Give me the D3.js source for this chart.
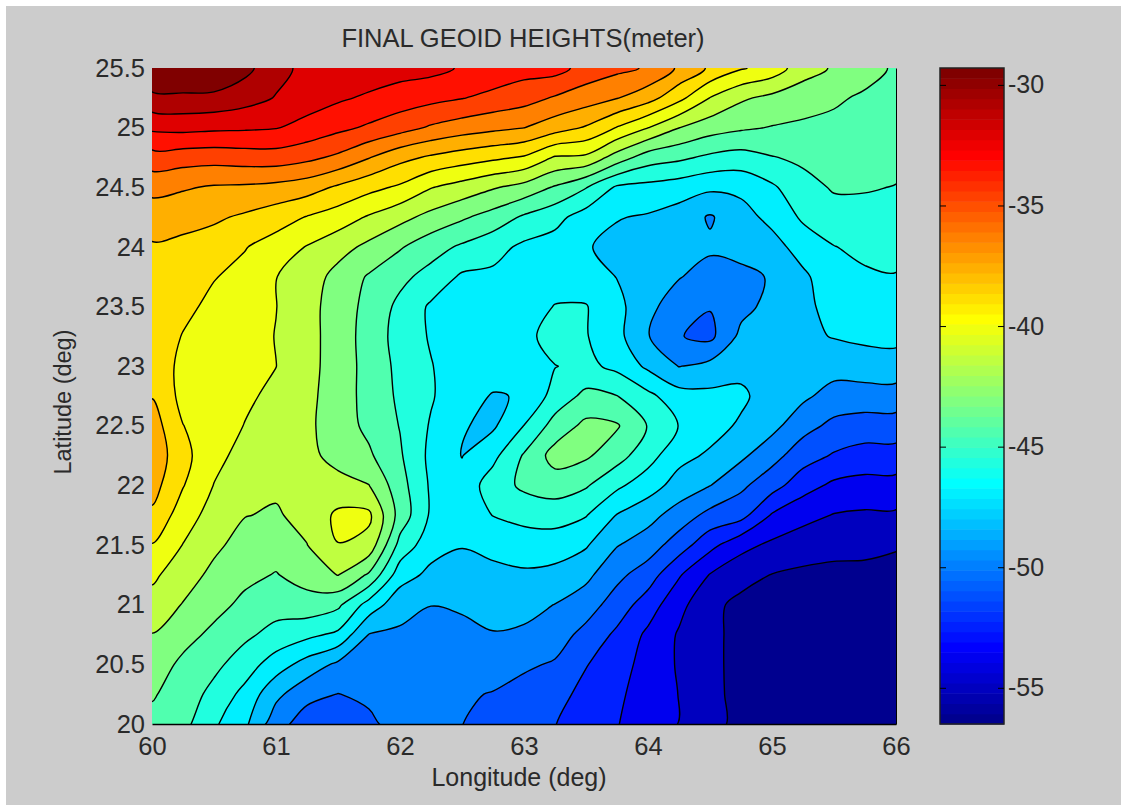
<!DOCTYPE html>
<html>
<head>
<meta charset="utf-8">
<script src="https://cdn.jsdelivr.net/npm/d3@7"></script>
<style>
  html, body { margin: 0; padding: 0; background: #fff; }
  text { font-family: "Liberation Sans", Arial, sans-serif; fill: #2a2a2a; }
</style>
</head>
<body>
<div id="chart"></div>
<script>
var lonTicks = [60, 61, 62, 63, 64, 65, 66];
var latTicks = [20, 20.5, 21, 21.5, 22, 22.5, 23, 23.5, 24, 24.5, 25, 25.5];
var barTicks = [-55, -50, -45, -40, -35, -30];

var lons = d3.range(60, 66.01, 0.25);
var lats = d3.range(25.5, 19.99, -0.25);

// lowest contour base and spacing, metres
var baseHeight = -56.5;
var contourStep = 1.36;
var levels = d3.range(1, 21);

// read off the picture as "how many contours above the base", one list per
// longitude (60 to 66 by 0.25), north to south (25.5 to 20 by 0.25)
var readings = [
  [21, 19.75, 18.2, 16.6, 15.3, 14.45, 13.9, 13.7, 13.6, 13.65, 13.75, 13.95, 14.5, 14.7, 14.4, 13.8, 12.95, 12.2, 11.6, 10.97, 10.5, 10.1, 9.7],
  [21, 19.8, 18.3, 16.46, 15.1, 14.35, 13.75, 13.45, 13.25, 12.95, 12.7, 12.7, 13.02, 13.3, 13.05, 12.5, 11.97, 11.45, 10.95, 10.33, 9.8, 9.55, 9.3],
  [21, 19.75, 18.2, 16.4, 14.9, 14.15, 13.55, 13.05, 12.75, 12.55, 12.45, 12.4, 12.45, 12.3, 11.97, 11.58, 11.2, 10.76, 10.3, 9.79, 9.25, 8.7, 8.15],
  [20.3, 19.4, 18.15, 16.5, 14.85, 13.85, 13.05, 12.7, 12.55, 12.4, 12.3, 12.15, 11.97, 11.65, 11.35, 11.03, 10.63, 10.23, 9.78, 9.2, 8.5, 7.7, 7.2],
  [19.3, 18.95, 18.05, 16.55, 14.7, 13.46, 12.55, 12.02, 12.02, 11.97, 12.01, 11.8, 11.6, 11.4, 11.15, 10.9, 10.4, 9.95, 9.4, 8.67, 7.5, 6.25, 5.4],
  [18.75, 18.45, 17.7, 16.25, 14.45, 12.95, 11.95, 11.55, 11.33, 11.33, 11.33, 11.25, 11.2, 11.25, 11.35, 11.3, 10.98, 10.4, 9.6, 8.25, 6.6, 5.3, 4.5],
  [18.75, 18.15, 17.25, 15.8, 13.85, 12.5, 11.4, 10.65, 10.57, 10.57, 10.55, 10.53, 10.5, 10.68, 11.32, 12.2, 11.98, 11.03, 9.2, 7.8, 5.8, 4.98, 4.3],
  [18.6, 17.85, 16.85, 15.05, 13.3, 11.9, 10.75, 9.9, 9.68, 9.57, 9.64, 9.64, 9.76, 10.15, 11.02, 12.2, 11.65, 9.85, 7.6, 5.97, 5.59, 5.2, 4.8],
  [18.4, 17.55, 16.4, 14.3, 12.85, 11.3, 10.1, 9.25, 8.76, 8.63, 8.74, 8.83, 8.96, 9.12, 9.4, 9.6, 8.65, 7.45, 6.35, 5.85, 5.55, 5.4, 5.4],
  [18.3, 17.3, 15.87, 13.85, 12.05, 10.7, 9.4, 8.65, 7.85, 7.9, 8.05, 8.1, 7.9, 7.75, 7.85, 7.85, 7.4, 6.75, 6.02, 5.6, 5.4, 5.35, 5.3],
  [17.9, 17.05, 15.5, 13.5, 11.6, 10.15, 8.85, 7.85, 7.6, 7.5, 7.4, 7.3, 7.05, 6.97, 7.35, 7.5, 7.05, 6.62, 6.2, 5.6, 5.35, 5.12, 5.02],
  [17.75, 16.7, 15.25, 13.2, 11.1, 9.6, 8.35, 7.8, 7.65, 7.5, 7.35, 6.95, 6.85, 7.73, 8.5, 8.02, 7.27, 6.75, 6.35, 5.95, 5.45, 4.95, 4.5],
  [17.4, 16.4, 15.02, 12.9, 10.65, 8.85, 7.8, 7.5, 7.4, 7.65, 7.3, 7.05, 8.02, 9.1, 9.2, 8.3, 7.5, 6.85, 6.35, 5.82, 5.15, 4.65, 4.1],
  [17.4, 15.9, 14.45, 11.9, 9.9, 8.3, 7.6, 7.45, 8.05, 8.5, 7.97, 8.4, 9.4, 10.4, 9.5, 8.4, 7.5, 6.7, 5.98, 5.45, 4.9, 4.35, 4.03],
  [16.6, 15.5, 13.9, 11.8, 9.05, 7.55, 7.07, 7.5, 8.05, 8.06, 8.25, 9.25, 10.25, 10.15, 9.1, 8.05, 7.1, 6.25, 5.45, 4.7, 4.05, 3.7, 3.4],
  [16.25, 15.05, 12.95, 10.55, 7.85, 7.05, 6.75, 6.97, 7.3, 7.3, 7.75, 9.02, 10.1, 9.4, 8.2, 6.95, 6.05, 5.25, 4.55, 3.8, 3.45, 3.2, 3.05],
  [15.9, 14.4, 12.02, 9.5, 7.7, 6.9, 6.55, 6.55, 6.25, 6.05, 6.8, 8.25, 8.95, 8.4, 7.45, 6.35, 5.5, 4.5, 3.5, 2.8, 2.6, 2.5, 2.4],
  [14.85, 13.3, 11.02, 9.2, 7.5, 6.55, 6.4, 6.05, 5.5, 5.05, 5.97, 7.4, 7.97, 7.3, 6.6, 5.55, 4.5, 3.1, 2.3, 1.9, 1.9, 1.98, 1.98],
  [13.85, 11.98, 10.45, 8.8, 7.2, 5.9, 6.15, 5.65, 5.05, 4.75, 6.3, 7.25, 7.4, 6.85, 6.02, 4.7, 3.3, 1.95, 1.25, 1.45, 1.4, 1.4, 1.4],
  [13.1, 11.15, 10.15, 8.6, 7.25, 6.6, 6.2, 5.85, 5.7, 6.25, 6.7, 7.2, 6.85, 6.2, 5.2, 4.35, 2.3, 1.35, 0.75, 0.45, 0.5, 0.55, 0.65],
  [12.6, 10.75, 9.95, 8.95, 7.85, 7.3, 6.6, 6.05, 6.3, 6.5, 6.55, 6.5, 6.3, 5.35, 4.4, 2.9, 1.8, 0.97, 0.6, 0.25, 0.15, 0.1, 0.1],
  [11.4, 10.5, 9.8, 9.2, 8.65, 8.15, 7.45, 6.8, 6.75, 6.8, 6.6, 6.2, 5.35, 4.45, 3.4, 2.3, 1.5, 0.8, 0.4, 0.2, 0.1, 0.05, 0.05],
  [10.9, 10.15, 9.75, 9.4, 9.1, 8.6, 7.97, 7.65, 7.35, 7.05, 6.4, 5.6, 4.75, 3.9, 2.8, 1.95, 1.3, 0.75, 0.4, 0.2, 0.1, 0.05, 0],
  [10.4, 9.85, 9.6, 9.3, 9.07, 8.7, 8.25, 7.85, 7.55, 7.2, 6.55, 5.55, 4.55, 3.6, 2.65, 1.85, 1.25, 0.75, 0.4, 0.2, 0.1, 0.05, 0],
  [9.85, 9.65, 9.45, 9.25, 8.97, 8.65, 8.3, 7.95, 7.6, 7.25, 6.6, 5.55, 4.55, 3.6, 2.65, 1.85, 1.1, 0.65, 0.35, 0.2, 0.1, 0, 0]
];

function toHeight(level) { return baseHeight + level * contourStep; }

// matlab jet(64), i from 1 to 64
function jet(i) {
  var r = i <= 24 ? 0 : i <= 40 ? (i - 24) / 16 : i <= 56 ? 1 : 1 - (i - 56) / 16;
  var g = i <= 8 ? 0 : i <= 24 ? (i - 8) / 16 : i <= 40 ? 1 : i <= 56 ? 1 - (i - 40) / 16 : 0;
  var b = i <= 8 ? 0.5 + i / 16 : i <= 24 ? 1 : i <= 40 ? 1 - (i - 24) / 16 : 0;
  return d3.rgb(r * 255, g * 255, b * 255).formatHex();
}
function bandColor(level) {
  return jet(Math.max(1, Math.min(64, Math.ceil(level * 3.2 - 1e-9))));
}

var svgW = 1121, svgH = 805;
var plot = { left: 152, right: 896, top: 68, bottom: 724 };
var bar = { left: 940, right: 1004 };

var svg = d3.select("#chart").append("svg")
  .attr("width", svgW)
  .attr("height", svgH)
  .style("display", "block");

svg.append("rect").attr("x", 6).attr("y", 6)
  .attr("width", svgW - 6).attr("height", svgH - 6)
  .attr("fill", "#cccccc");

var x = d3.scaleLinear().domain([60, 66]).range([plot.left, plot.right]);
var y = d3.scaleLinear().domain([20, 25.5]).range([plot.bottom, plot.top]);
var c = d3.scaleLinear().domain([toHeight(0), toHeight(20)]).range([plot.bottom, plot.top]);

svg.append("clipPath").attr("id", "plot-clip")
  .append("rect")
  .attr("x", plot.left).attr("y", plot.top)
  .attr("width", plot.right - plot.left)
  .attr("height", plot.bottom - plot.top);

// row-major grid of heights for d3.contours
var grid = [];
lats.forEach(function (lat, row) {
  lons.forEach(function (lon, col) {
    grid.push(toHeight(readings[col][row]));
  });
});

var contours = d3.contours()
  .size([lons.length, lats.length])
  .thresholds(levels.map(toHeight))(grid);

// grid sample i sits at contour coordinate i + 0.5
var ringLine = d3.line()
  .x(function (p) { return x(60 + (p[0] - 0.5) * 0.25); })
  .y(function (p) { return y(25.5 - (p[1] - 0.5) * 0.25); })
  .curve(d3.curveCatmullRomClosed.alpha(0.5));

function contourPath(d) {
  var out = "";
  d.coordinates.forEach(function (polygon) {
    polygon.forEach(function (ring) {
      out += ringLine(ring.slice(0, -1));
    });
  });
  return out;
}

var field = svg.append("g").attr("clip-path", "url(#plot-clip)");

field.append("rect")
  .attr("x", plot.left).attr("y", plot.top)
  .attr("width", plot.right - plot.left)
  .attr("height", plot.bottom - plot.top)
  .attr("fill", bandColor(0));

field.selectAll("path")
  .data(contours)
  .enter().append("path")
  .attr("d", contourPath)
  .attr("fill", function (d, i) { return bandColor(levels[i]); })
  .attr("fill-rule", "evenodd")
  .attr("stroke", "#000")
  .attr("stroke-width", 1.4)
  .attr("stroke-linejoin", "round");

// axes, no tick marks show on the filled area
var fontSize = 25.5;
var xAxis = svg.append("g")
  .attr("transform", "translate(0," + plot.bottom + ")")
  .call(d3.axisBottom(x).tickValues(lonTicks).tickSize(0).tickPadding(13).tickFormat(String));
var yAxis = svg.append("g")
  .attr("transform", "translate(" + plot.left + ",0)")
  .call(d3.axisLeft(y).tickValues(latTicks).tickSize(0).tickPadding(7).tickFormat(String));
yAxis.select(".domain").remove();
svg.append("g")
  .attr("transform", "translate(" + plot.right + ",0)")
  .call(d3.axisRight(y).tickValues([]).tickSizeOuter(0));

xAxis.select(".domain").attr("stroke-width", 1.5);
svg.selectAll("g text").style("font-size", fontSize + "px");

// colorbar
var barStep = (toHeight(20) - toHeight(0)) / 64;
svg.append("g").selectAll("rect")
  .data(d3.range(1, 65))
  .enter().append("rect")
  .attr("x", bar.left)
  .attr("width", bar.right - bar.left)
  .attr("y", function (i) { return c(toHeight(0) + i * barStep); })
  .attr("height", function (i) { return c(toHeight(0) + (i - 1) * barStep) - c(toHeight(0) + i * barStep) + 0.5; })
  .attr("fill", function (i) { return jet(i); });

svg.append("rect")
  .attr("x", bar.left).attr("y", plot.top)
  .attr("width", bar.right - bar.left)
  .attr("height", plot.bottom - plot.top)
  .attr("fill", "none")
  .attr("stroke", "#222")
  .attr("stroke-width", 1.5);

svg.append("g")
  .attr("transform", "translate(" + bar.left + ",0)")
  .call(d3.axisRight(c).tickValues(barTicks).tickSizeInner(6).tickSizeOuter(0).tickFormat(""))
  .select(".domain").remove();
var barAxis = svg.append("g")
  .attr("transform", "translate(" + bar.right + ",0)")
  .call(d3.axisRight(c).tickValues(barTicks).tickSizeInner(-6).tickSizeOuter(0).tickPadding(4).tickFormat(String));
barAxis.select(".domain").remove();
barAxis.selectAll("text").style("font-size", "25px");

// titles
svg.append("text")
  .attr("text-anchor", "middle")
  .style("font-size", "25.5px")
  .attr("x", 523)
  .attr("y", 47)
  .text("FINAL GEOID HEIGHTS(meter)");

svg.append("text")
  .attr("text-anchor", "middle")
  .style("font-size", "25px")
  .attr("x", 519)
  .attr("y", 786)
  .text("Longitude (deg)");

svg.append("text")
  .attr("text-anchor", "middle")
  .style("font-size", "23.5px")
  .attr("transform", "translate(71,402) rotate(-90)")
  .text("Latitude (deg)");
</script>
</body>
</html>
